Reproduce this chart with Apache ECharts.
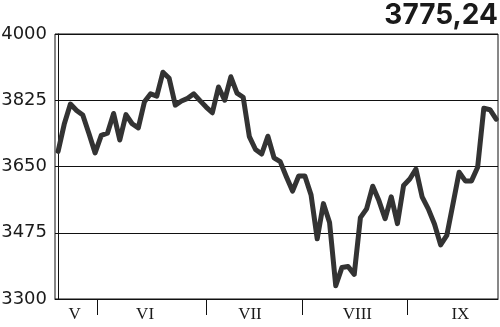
<!DOCTYPE html>
<html>
<head>
<meta charset="utf-8">
<script src="https://cdn.jsdelivr.net/npm/echarts@6/dist/echarts.min.js"></script>
<style>
html,body{margin:0;padding:0;background:#fff;}
#chart{width:500px;height:327px;}
</style>
</head>
<body>
<div id="chart"></div>
<script>
// Daily index closes, May–September
const closeValues = [
  3690, 3762, 3815, 3798, 3786, 3737, 3686, 3732, 3738, 3790,
  3720, 3787, 3763, 3752, 3821, 3842, 3836, 3899, 3883, 3812,
  3823, 3830, 3842, 3824, 3807, 3792, 3860, 3825, 3887, 3844,
  3833, 3729, 3695, 3683, 3730, 3673, 3663, 3623, 3585, 3625,
  3625, 3575, 3459, 3552, 3502, 3335, 3383, 3386, 3365, 3515,
  3538, 3598, 3560, 3512, 3570, 3499, 3600, 3617, 3643, 3570,
  3538, 3498, 3443, 3468, 3551, 3635, 3612, 3612, 3648, 3804,
  3800, 3775.24
];
const lastValueLabel = '3775,24';

// Y-axis ticks
const yMin = 3300;
const yMax = 4000;
const yStep = 175;

// Month labels (Roman numerals) and where they sit / separate, in day-index units
const monthLabels = ['V', 'VI', 'VII', 'VIII', 'IX'];
const monthLabelPos = [2.7, 14.1, 31.1, 48.5, 65.2];
const monthBounds = [6.3, 24, 39.5, 56.6];

const chart = echarts.init(document.getElementById('chart'), null, {renderer: 'canvas'});

chart.setOption({
  animation: false,
  backgroundColor: '#ffffff',
  title: {
    text: lastValueLabel,
    right: 2,
    top: 2,
    padding: 0,
    textStyle: {
      fontFamily: 'Inter',
      fontWeight: 'bold',
      fontSize: 28,
      color: '#1a1a1a'
    }
  },
  grid: {
    left: 55,
    right: 2,
    top: 34,
    bottom: 28,
    outerBoundsMode: 'none',
    containLabel: false,
    show: true,
    borderColor: '#111',
    borderWidth: 1,
    backgroundColor: 'transparent'
  },
  xAxis: {
    type: 'value',
    min: -0.5,
    max: 71.3,
    axisLine: {show: true, lineStyle: {color: '#111', width: 1}},
    splitLine: {show: false},
    axisTick: {
      show: true,
      customValues: monthBounds,
      length: 16,
      lineStyle: {color: '#111', width: 1}
    },
    axisLabel: {
      show: true,
      customValues: monthLabelPos,
      formatter: function (v) {
        const k = monthLabelPos.indexOf(v);
        return k >= 0 ? monthLabels[k] : '';
      },
      margin: 7,
      fontFamily: 'Liberation Serif',
      fontSize: 17,
      color: '#1a1a1a'
    }
  },
  yAxis: {
    type: 'value',
    min: yMin,
    max: yMax,
    interval: yStep,
    axisLine: {show: true, lineStyle: {color: '#111', width: 1}},
    axisTick: {show: false},
    splitLine: {show: true, lineStyle: {color: '#111', width: 1}},
    axisLabel: {
      margin: 8,
      fontFamily: 'DejaVu Sans',
      fontSize: 18,
      color: '#1a1a1a',
      formatter: function (v) { return String(v); }
    }
  },
  series: [{
    type: 'line',
    data: closeValues.map(function (v, i) { return [i, v]; }),
    showSymbol: false,
    symbol: 'none',
    lineStyle: {color: '#333333', width: 5, join: 'round', cap: 'round'},
    z: 3
  }]
});
</script>
</body>
</html>
